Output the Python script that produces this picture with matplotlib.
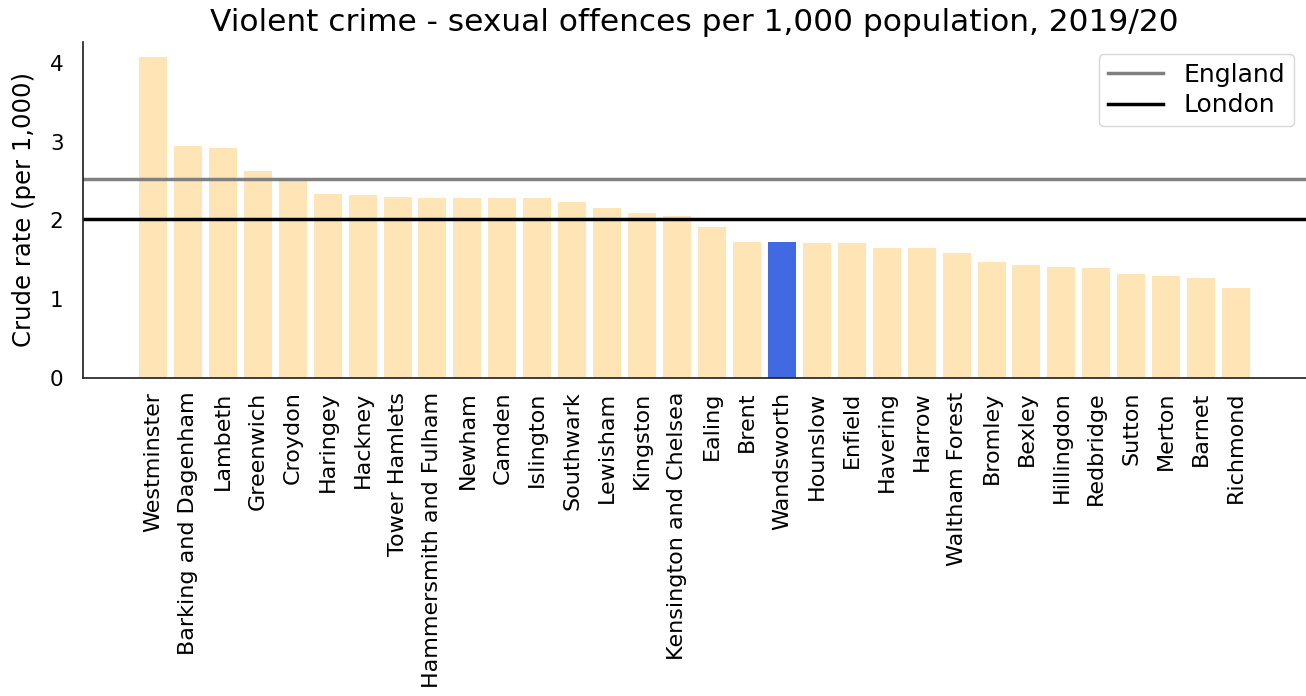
import matplotlib
matplotlib.use("Agg")
import matplotlib.pyplot as plt
import numpy as np

plt.rcParams['font.family'] = ['DejaVu Sans']

boroughs = [
    "Westminster", "Barking and Dagenham", "Lambeth", "Greenwich", "Croydon",
    "Haringey", "Hackney", "Tower Hamlets", "Hammersmith and Fulham", "Newham",
    "Camden", "Islington", "Southwark", "Lewisham", "Kingston",
    "Kensington and Chelsea", "Ealing", "Brent", "Wandsworth", "Hounslow",
    "Enfield", "Havering", "Harrow", "Waltham Forest", "Bromley",
    "Bexley", "Hillingdon", "Redbridge", "Sutton", "Merton",
    "Barnet", "Richmond",
]
rates = [
    4.08, 2.94, 2.92, 2.63, 2.50,
    2.34, 2.32, 2.30, 2.29, 2.29,
    2.28, 2.28, 2.23, 2.16, 2.09,
    2.06, 1.91, 1.73, 1.73, 1.71,
    1.71, 1.65, 1.65, 1.58, 1.47,
    1.43, 1.41, 1.40, 1.32, 1.29,
    1.27, 1.14,
]
england_rate = 2.52
london_rate = 2.02
highlight = "Wandsworth"

base_colour = "#FFE4B5"
highlight_colour = "#4169E1"

fig = plt.figure(figsize=(13.06, 6.96), dpi=100)
ax = fig.add_axes([0.0636, 0.4573, 0.9364, 0.4827])

x = np.arange(len(boroughs))
colours = [highlight_colour if b == highlight else base_colour for b in boroughs]
ax.bar(x, rates, width=0.8, color=colours, linewidth=0)

ax.axhline(england_rate, color="#808080", lw=2.5, label="England")
ax.axhline(london_rate, color="black", lw=2.5, label="London")

ax.set_xlim(-2, len(boroughs) + 1)
ax.set_ylim(0, 4.27)
ax.set_yticks([0, 1, 2, 3, 4])
ax.set_xticks(x)
ax.set_xticklabels(boroughs, rotation=90, fontsize=16)
ax.tick_params(axis="y", length=0, pad=14, labelsize=15.5)
ax.tick_params(axis="x", length=0, pad=10)

for side in ("top", "right"):
    ax.spines[side].set_visible(False)
for side in ("left", "bottom"):
    ax.spines[side].set_color("#262626")
    ax.spines[side].set_linewidth(1.25)

ax.set_ylabel("Crude rate (per 1,000)", fontsize=17.5, labelpad=10)
ax.set_title("Violent crime - sexual offences per 1,000 population, 2019/20",
             fontsize=22.5, pad=8)

ax.legend(loc="upper right", fontsize=18, handlelength=2.2, frameon=True,
          labelspacing=0.25, borderpad=0.35)

fig.savefig("out.png", dpi=100)
